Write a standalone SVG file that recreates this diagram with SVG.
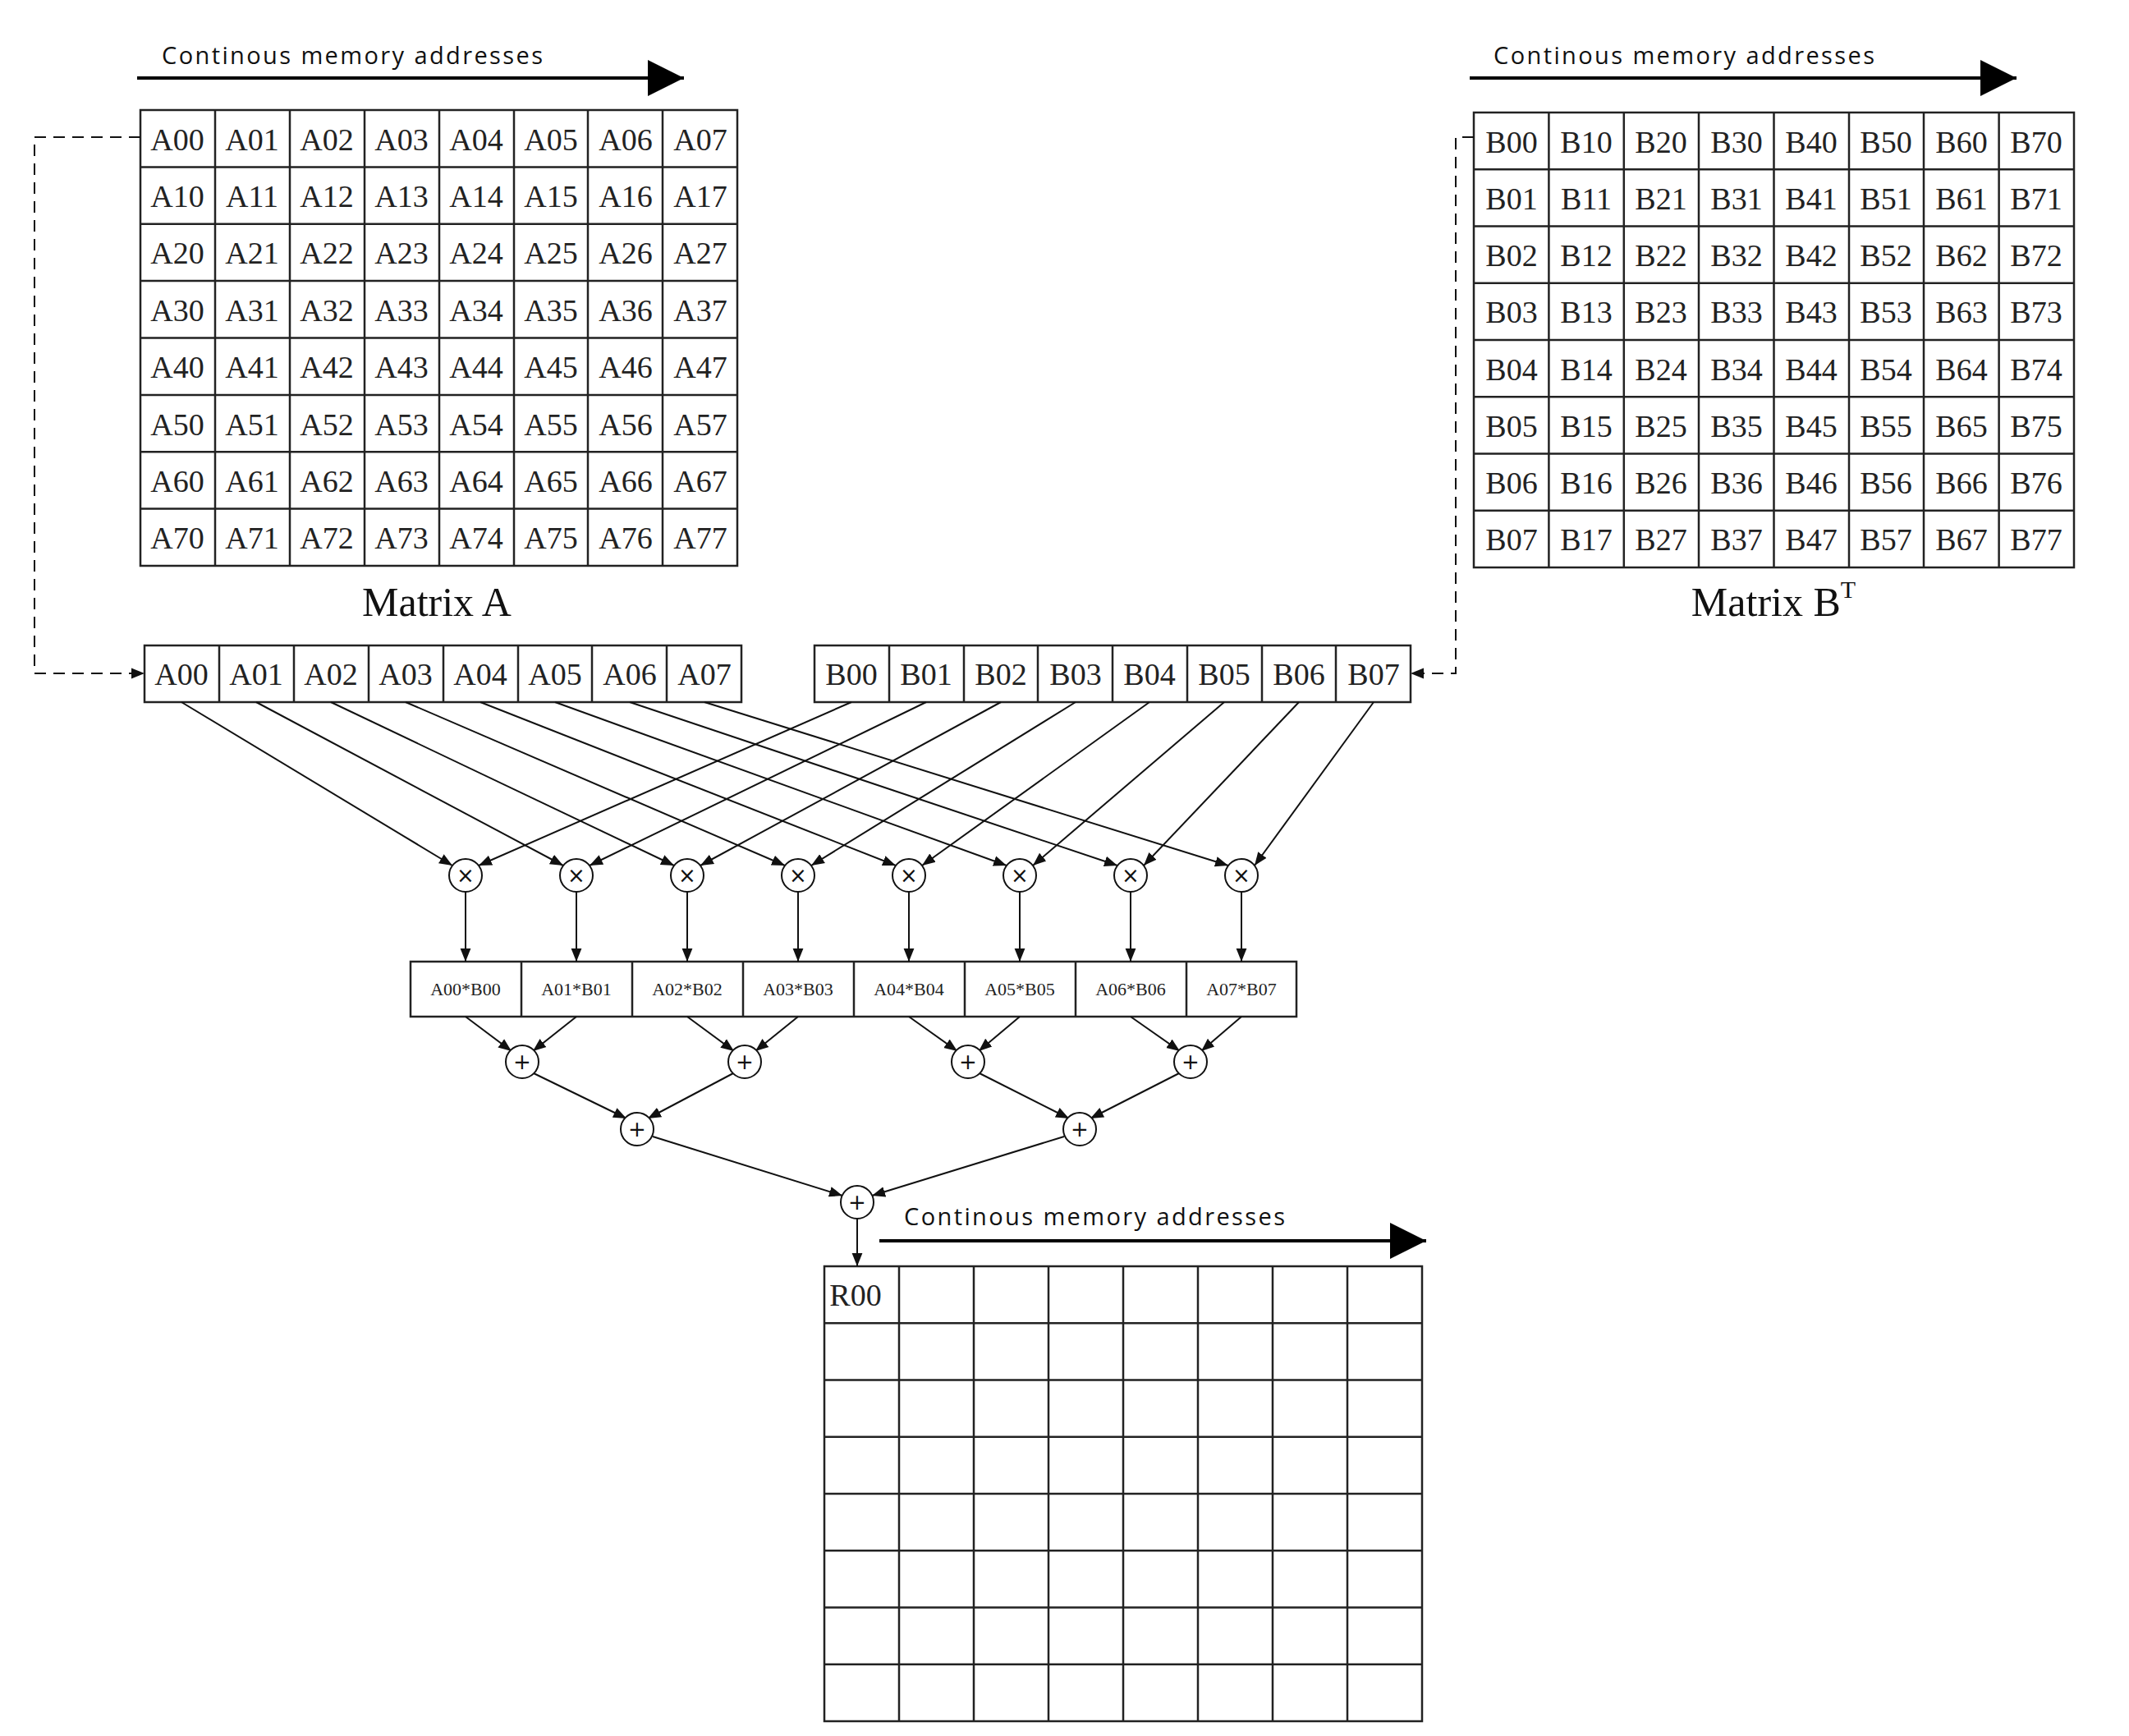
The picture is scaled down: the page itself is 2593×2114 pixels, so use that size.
<svg xmlns="http://www.w3.org/2000/svg" width="2593" height="2114" viewBox="0 0 2593 2114">
<defs>
<marker id="ah" viewBox="0 0 10 10" refX="10" refY="5" markerWidth="9" markerHeight="9" markerUnits="userSpaceOnUse" orient="auto"><path d="M0,0L10,5L0,10z" fill="#111"/></marker>
<marker id="big" viewBox="0 0 10 10" refX="10" refY="5" markerWidth="11" markerHeight="11" orient="auto"><path d="M0,0L10,5L0,10z" fill="#000"/></marker>
<marker id="sm" viewBox="0 0 10 10" refX="10" refY="5" markerWidth="16" markerHeight="16" markerUnits="userSpaceOnUse" orient="auto"><path d="M0,1L10,5L0,9z" fill="#111"/></marker>
</defs>
<style>
.g{fill:none;stroke:#222;stroke-width:2.5}
.c{font-family:"Liberation Serif",serif;font-size:38px;fill:#222;text-anchor:middle}
.p{font-family:"Liberation Serif",serif;font-size:22px;fill:#222;text-anchor:middle}
.lab{font-family:"Open Sans","Liberation Sans",sans-serif;font-size:29px;fill:#111}
.t{font-family:"Liberation Serif",serif;font-size:50px;fill:#111;text-anchor:middle}
.w{stroke:#111;stroke-width:2;fill:none;marker-end:url(#sm)}
.o{fill:#fff;stroke:#111;stroke-width:2}
.s{font-family:"DejaVu Sans",sans-serif;font-size:26px;fill:#111;text-anchor:middle}
</style>
<rect width="2593" height="2114" fill="#fff"/>
<g id="labelA"><text class="lab" x="197" y="78" textLength="464">Continous memory addresses</text>
<line x1="167" y1="95" x2="833" y2="95" stroke="#000" stroke-width="4" marker-end="url(#big)"/></g>
<g id="matrixA">
<path class="g" d="M171,134H898V689H171ZM171,203.4H898M171,272.8H898M171,342.1H898M171,411.5H898M171,480.9H898M171,550.3H898M171,619.6H898M262,134V689M353,134V689M444,134V689M535,134V689M626,134V689M716,134V689M807,134V689"/>
<g class="c">
<text x="216" y="183">A00</text><text x="307" y="183">A01</text><text x="398" y="183">A02</text><text x="489" y="183">A03</text><text x="580" y="183">A04</text><text x="671" y="183">A05</text><text x="762" y="183">A06</text><text x="853" y="183">A07</text>
<text x="216" y="252">A10</text><text x="307" y="252">A11</text><text x="398" y="252">A12</text><text x="489" y="252">A13</text><text x="580" y="252">A14</text><text x="671" y="252">A15</text><text x="762" y="252">A16</text><text x="853" y="252">A17</text>
<text x="216" y="321">A20</text><text x="307" y="321">A21</text><text x="398" y="321">A22</text><text x="489" y="321">A23</text><text x="580" y="321">A24</text><text x="671" y="321">A25</text><text x="762" y="321">A26</text><text x="853" y="321">A27</text>
<text x="216" y="391">A30</text><text x="307" y="391">A31</text><text x="398" y="391">A32</text><text x="489" y="391">A33</text><text x="580" y="391">A34</text><text x="671" y="391">A35</text><text x="762" y="391">A36</text><text x="853" y="391">A37</text>
<text x="216" y="460">A40</text><text x="307" y="460">A41</text><text x="398" y="460">A42</text><text x="489" y="460">A43</text><text x="580" y="460">A44</text><text x="671" y="460">A45</text><text x="762" y="460">A46</text><text x="853" y="460">A47</text>
<text x="216" y="530">A50</text><text x="307" y="530">A51</text><text x="398" y="530">A52</text><text x="489" y="530">A53</text><text x="580" y="530">A54</text><text x="671" y="530">A55</text><text x="762" y="530">A56</text><text x="853" y="530">A57</text>
<text x="216" y="599">A60</text><text x="307" y="599">A61</text><text x="398" y="599">A62</text><text x="489" y="599">A63</text><text x="580" y="599">A64</text><text x="671" y="599">A65</text><text x="762" y="599">A66</text><text x="853" y="599">A67</text>
<text x="216" y="668">A70</text><text x="307" y="668">A71</text><text x="398" y="668">A72</text><text x="489" y="668">A73</text><text x="580" y="668">A74</text><text x="671" y="668">A75</text><text x="762" y="668">A76</text><text x="853" y="668">A77</text>
</g>
<text class="t" x="532" y="750">Matrix A</text>
</g>
<g id="labelB"><text class="lab" x="1819" y="78" textLength="464">Continous memory addresses</text>
<line x1="1790" y1="95" x2="2456" y2="95" stroke="#000" stroke-width="4" marker-end="url(#big)"/></g>
<g id="matrixB">
<path class="g" d="M1795,137H2526V691H1795ZM1795,206.3H2526M1795,275.5H2526M1795,344.8H2526M1795,414H2526M1795,483.3H2526M1795,552.5H2526M1795,621.8H2526M1886.4,137V691M1977.8,137V691M2069,137V691M2160.5,137V691M2252,137V691M2343,137V691M2434.6,137V691"/>
<g class="c">
<text x="1841" y="186">B00</text><text x="1932" y="186">B10</text><text x="2023" y="186">B20</text><text x="2115" y="186">B30</text><text x="2206" y="186">B40</text><text x="2297" y="186">B50</text><text x="2389" y="186">B60</text><text x="2480" y="186">B70</text>
<text x="1841" y="255">B01</text><text x="1932" y="255">B11</text><text x="2023" y="255">B21</text><text x="2115" y="255">B31</text><text x="2206" y="255">B41</text><text x="2297" y="255">B51</text><text x="2389" y="255">B61</text><text x="2480" y="255">B71</text>
<text x="1841" y="324">B02</text><text x="1932" y="324">B12</text><text x="2023" y="324">B22</text><text x="2115" y="324">B32</text><text x="2206" y="324">B42</text><text x="2297" y="324">B52</text><text x="2389" y="324">B62</text><text x="2480" y="324">B72</text>
<text x="1841" y="393">B03</text><text x="1932" y="393">B13</text><text x="2023" y="393">B23</text><text x="2115" y="393">B33</text><text x="2206" y="393">B43</text><text x="2297" y="393">B53</text><text x="2389" y="393">B63</text><text x="2480" y="393">B73</text>
<text x="1841" y="463">B04</text><text x="1932" y="463">B14</text><text x="2023" y="463">B24</text><text x="2115" y="463">B34</text><text x="2206" y="463">B44</text><text x="2297" y="463">B54</text><text x="2389" y="463">B64</text><text x="2480" y="463">B74</text>
<text x="1841" y="532">B05</text><text x="1932" y="532">B15</text><text x="2023" y="532">B25</text><text x="2115" y="532">B35</text><text x="2206" y="532">B45</text><text x="2297" y="532">B55</text><text x="2389" y="532">B65</text><text x="2480" y="532">B75</text>
<text x="1841" y="601">B06</text><text x="1932" y="601">B16</text><text x="2023" y="601">B26</text><text x="2115" y="601">B36</text><text x="2206" y="601">B46</text><text x="2297" y="601">B56</text><text x="2389" y="601">B66</text><text x="2480" y="601">B76</text>
<text x="1841" y="670">B07</text><text x="1932" y="670">B17</text><text x="2023" y="670">B27</text><text x="2115" y="670">B37</text><text x="2206" y="670">B47</text><text x="2297" y="670">B57</text><text x="2389" y="670">B67</text><text x="2480" y="670">B77</text>
</g>
<text class="t" x="2160" y="750">Matrix B<tspan dy="-22" font-size="30">T</tspan></text>
</g>
<g id="rowA">
<path class="g" d="M176,786H903V855H176ZM267,786V855M358,786V855M449,786V855M540,786V855M631,786V855M721,786V855M812,786V855"/>
<g class="c"><text x="221" y="834">A00</text><text x="312" y="834">A01</text><text x="403" y="834">A02</text><text x="494" y="834">A03</text><text x="585" y="834">A04</text><text x="676" y="834">A05</text><text x="767" y="834">A06</text><text x="858" y="834">A07</text></g>
</g>
<g id="rowB">
<path class="g" d="M992,786H1718V855H992ZM1083,786V855M1174,786V855M1264,786V855M1355,786V855M1446,786V855M1537,786V855M1627,786V855"/>
<g class="c"><text x="1037" y="834">B00</text><text x="1128" y="834">B01</text><text x="1219" y="834">B02</text><text x="1310" y="834">B03</text><text x="1400" y="834">B04</text><text x="1491" y="834">B05</text><text x="1582" y="834">B06</text><text x="1673" y="834">B07</text></g>
</g>
<g id="products">
<path class="g" d="M500,1171H1579V1238H500ZM635,1171V1238M770,1171V1238M905,1171V1238M1040,1171V1238M1175,1171V1238M1310,1171V1238M1445,1171V1238"/>
<g class="p"><text x="567" y="1212">A00*B00</text><text x="702" y="1212">A01*B01</text><text x="837" y="1212">A02*B02</text><text x="972" y="1212">A03*B03</text><text x="1107" y="1212">A04*B04</text><text x="1242" y="1212">A05*B05</text><text x="1377" y="1212">A06*B06</text><text x="1512" y="1212">A07*B07</text></g>
</g>
<g id="resultLabel"><text class="lab" x="1101" y="1492" textLength="464">Continous memory addresses</text>
<line x1="1071" y1="1511" x2="1737" y2="1511" stroke="#000" stroke-width="4" marker-end="url(#big)"/></g>
<g id="matrixR">
<path class="g" d="M1004,1542H1732V2096H1004ZM1004,1611.3H1732M1004,1680.5H1732M1004,1749.8H1732M1004,1819H1732M1004,1888.3H1732M1004,1957.5H1732M1004,2026.8H1732M1095,1542V2096M1186,1542V2096M1277,1542V2096M1368,1542V2096M1459,1542V2096M1550,1542V2096M1641,1542V2096"/>
<text class="c" x="1042" y="1590">R00</text>
</g>
<g id="connectors">
<path d="M171,167H42V820H176" fill="none" stroke="#111" stroke-width="2" stroke-dasharray="14,9" marker-end="url(#sm)"/>
<path d="M1795,167H1773V820H1718" fill="none" stroke="#111" stroke-width="2" stroke-dasharray="14,9" marker-end="url(#sm)"/>
<line class="w" x1="221" y1="855" x2="551" y2="1054"/><line class="w" x1="312" y1="855" x2="686" y2="1054"/><line class="w" x1="403" y1="855" x2="821" y2="1054"/><line class="w" x1="494" y1="855" x2="956" y2="1054"/><line class="w" x1="585" y1="855" x2="1091" y2="1054"/><line class="w" x1="676" y1="855" x2="1226" y2="1054"/><line class="w" x1="767" y1="855" x2="1361" y2="1054"/><line class="w" x1="858" y1="855" x2="1496" y2="1054"/>
<line class="w" x1="1037" y1="855" x2="583" y2="1054"/><line class="w" x1="1128" y1="855" x2="718" y2="1054"/><line class="w" x1="1219" y1="855" x2="853" y2="1054"/><line class="w" x1="1310" y1="855" x2="988" y2="1054"/><line class="w" x1="1400" y1="855" x2="1123" y2="1054"/><line class="w" x1="1491" y1="855" x2="1258" y2="1054"/><line class="w" x1="1582" y1="855" x2="1393" y2="1054"/><line class="w" x1="1673" y1="855" x2="1528" y2="1054"/>
<line class="w" x1="567" y1="1086" x2="567" y2="1171"/><line class="w" x1="702" y1="1086" x2="702" y2="1171"/><line class="w" x1="837" y1="1086" x2="837" y2="1171"/><line class="w" x1="972" y1="1086" x2="972" y2="1171"/><line class="w" x1="1107" y1="1086" x2="1107" y2="1171"/><line class="w" x1="1242" y1="1086" x2="1242" y2="1171"/><line class="w" x1="1377" y1="1086" x2="1377" y2="1171"/><line class="w" x1="1512" y1="1086" x2="1512" y2="1171"/>
<line class="w" x1="567" y1="1238" x2="623" y2="1280"/><line class="w" x1="702" y1="1238" x2="649" y2="1280"/><line class="w" x1="837" y1="1238" x2="894" y2="1280"/><line class="w" x1="972" y1="1238" x2="920" y2="1280"/><line class="w" x1="1107" y1="1238" x2="1166" y2="1280"/><line class="w" x1="1242" y1="1238" x2="1192" y2="1280"/><line class="w" x1="1377" y1="1238" x2="1437" y2="1280"/><line class="w" x1="1512" y1="1238" x2="1463" y2="1280"/>
<line class="w" x1="650" y1="1307" x2="763" y2="1362"/><line class="w" x1="893" y1="1307" x2="789" y2="1362"/><line class="w" x1="1193" y1="1307" x2="1302" y2="1362"/><line class="w" x1="1436" y1="1307" x2="1328" y2="1362"/>
<line class="w" x1="795" y1="1384" x2="1026" y2="1456"/><line class="w" x1="1296" y1="1384" x2="1062" y2="1456"/>
<line class="w" x1="1044" y1="1484" x2="1044" y2="1542"/>
</g>
<g id="ops">
<circle class="o" cx="567" cy="1066" r="20"/><circle class="o" cx="702" cy="1066" r="20"/><circle class="o" cx="837" cy="1066" r="20"/><circle class="o" cx="972" cy="1066" r="20"/><circle class="o" cx="1107" cy="1066" r="20"/><circle class="o" cx="1242" cy="1066" r="20"/><circle class="o" cx="1377" cy="1066" r="20"/><circle class="o" cx="1512" cy="1066" r="20"/>
<g class="s"><text x="567" y="1075">×</text><text x="702" y="1075">×</text><text x="837" y="1075">×</text><text x="972" y="1075">×</text><text x="1107" y="1075">×</text><text x="1242" y="1075">×</text><text x="1377" y="1075">×</text><text x="1512" y="1075">×</text></g>
<circle class="o" cx="636" cy="1293" r="20"/><circle class="o" cx="907" cy="1293" r="20"/><circle class="o" cx="1179" cy="1293" r="20"/><circle class="o" cx="1450" cy="1293" r="20"/>
<circle class="o" cx="776" cy="1375" r="20"/><circle class="o" cx="1315" cy="1375" r="20"/><circle class="o" cx="1044" cy="1464" r="20"/>
<g class="s"><text x="636" y="1302">+</text><text x="907" y="1302">+</text><text x="1179" y="1302">+</text><text x="1450" y="1302">+</text><text x="776" y="1384">+</text><text x="1315" y="1384">+</text><text x="1044" y="1473">+</text></g>
</g>
</svg>
